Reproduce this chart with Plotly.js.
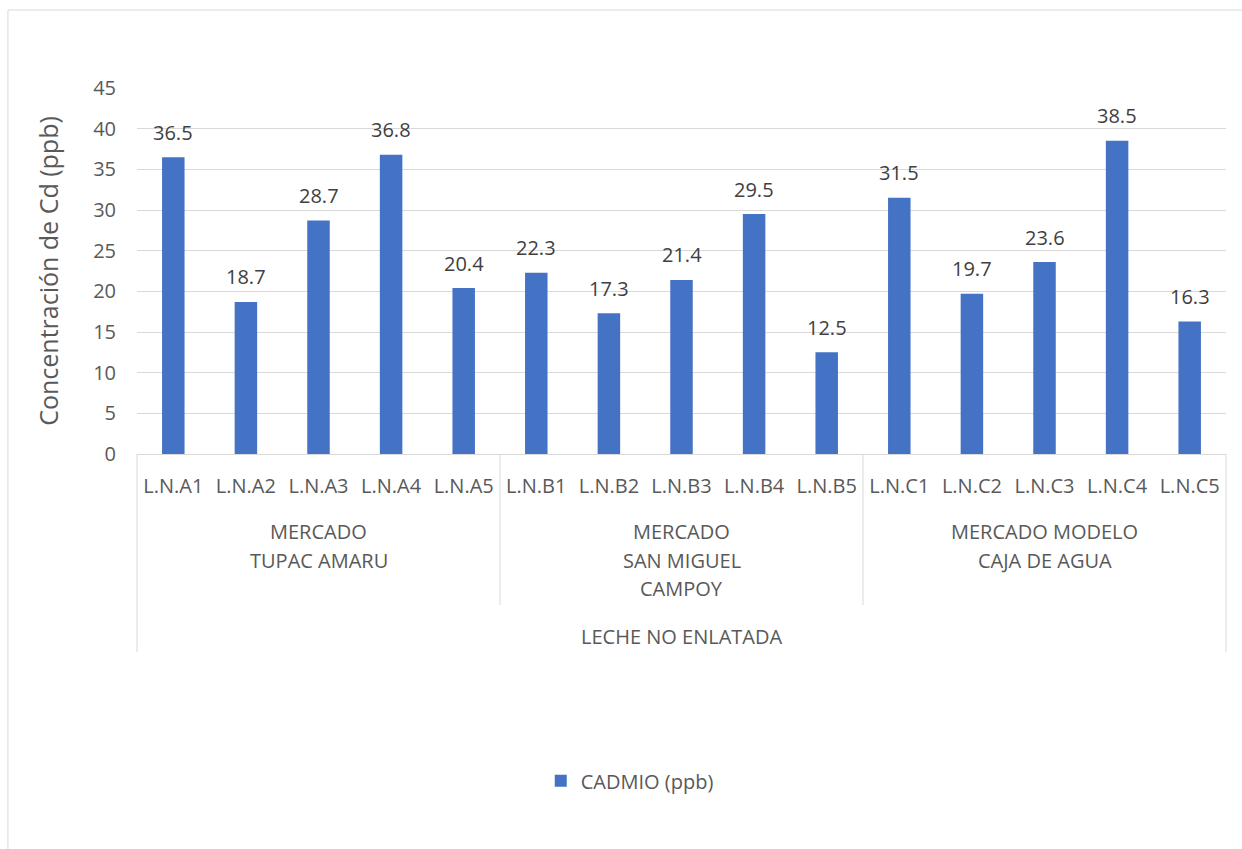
<!DOCTYPE html>
<html>
<head>
<meta charset="utf-8">
<script src="https://cdn.plot.ly/plotly-3.0.1.min.js"></script>
<style>
  html, body { margin: 0; padding: 0; background: #ffffff; }
  #chart { width: 1242px; height: 849px; }
</style>
</head>
<body>
<div id="chart"></div>
<script>
// ---- Data ----
const categories = ["L.N.A1", "L.N.A2", "L.N.A3", "L.N.A4", "L.N.A5",
                    "L.N.B1", "L.N.B2", "L.N.B3", "L.N.B4", "L.N.B5",
                    "L.N.C1", "L.N.C2", "L.N.C3", "L.N.C4", "L.N.C5"];
const cadmioValues = [36.5, 18.7, 28.7, 36.8, 20.4,
                      22.3, 17.3, 21.4, 29.5, 12.5,
                      31.5, 19.7, 23.6, 38.5, 16.3];
const groupLabels = [["MERCADO", "TUPAC AMARU"],
                     ["MERCADO", "SAN MIGUEL", "CAMPOY"],
                     ["MERCADO MODELO", "CAJA DE AGUA"]];
const groupStarts = [0, 5, 10];
const groupEnds = [4, 9, 14];
const topLabel = "LECHE NO ENLATADA";
const seriesName = "CADMIO (ppb)";
const yTitle = "Concentración de Cd (ppb)";

// ---- Style ----
const FONT = "Open Sans, Noto Sans, sans-serif";
const gray = "#595959";
const lineGray = "#d9d9d9";
const barColor = "#4472C4";

const trace = {
  type: "bar",
  x: categories,
  y: cadmioValues,
  name: seriesName,
  marker: { color: barColor },
  hoverinfo: "x+y",
  showlegend: true
};

const annotations = [];
categories.forEach((c, i) => {
  annotations.push({
    xref: "x", yref: "y", x: c, y: cadmioValues[i],
    text: cadmioValues[i].toFixed(1),
    showarrow: false, yanchor: "middle", yshift: 25,
    font: { family: FONT, size: 20, color: "#404040" }
  });
});
groupLabels.forEach((lines, g) => {
  const cx = (groupStarts[g] + groupEnds[g]) / 2;
  lines.forEach((ln, k) => {
    annotations.push({
      xref: "x", yref: "paper", x: cx, y: -0.2131,
      yshift: -28.5 * k,
      text: ln, showarrow: false, xanchor: "center", yanchor: "middle",
      font: { family: FONT, size: 20, color: gray }
    });
  });
});
annotations.push({
  xref: "paper", yref: "paper", x: 0.5, y: -0.4973,
  text: topLabel, showarrow: false, xanchor: "center", yanchor: "middle",
  font: { family: FONT, size: 20, color: gray }
});

const shapes = [];
// group dividers
for (let g = 1; g < groupStarts.length; g++) {
  const xd = groupStarts[g] - 0.5;
  shapes.push({ type: "line", xref: "x", yref: "paper", x0: xd, x1: xd, y0: 0, y1: -0.4126,
                line: { color: lineGray, width: 1 } });
}
// outer dividers
[0, 1].forEach(xp => {
  shapes.push({ type: "line", xref: "paper", yref: "paper", x0: xp, x1: xp, y0: 0, y1: -0.541,
                line: { color: lineGray, width: 1 } });
});
// chart border
shapes.push({ type: "rect", xref: "paper", yref: "paper", x0: -0.1185, x1: 1.03, y0: 1.2131, y1: -1.2,
              line: { color: lineGray, width: 1 }, fillcolor: "rgba(0,0,0,0)", layer: "below" });

const layout = {
  width: 1242, height: 849,
  margin: { l: 137, r: 16, t: 88, b: 395 },
  paper_bgcolor: "#ffffff", plot_bgcolor: "#ffffff",
  font: { family: FONT, color: gray },
  bargap: 0.69,
  xaxis: {
    type: "category",
    range: [-0.5, 14.5],
    showgrid: false, zeroline: false,
    showline: true, linecolor: lineGray, linewidth: 1,
    ticks: "", ticklabelstandoff: 14,
    tickfont: { family: FONT, size: 20, color: gray },
    fixedrange: true
  },
  yaxis: {
    range: [0, 45], dtick: 5, tick0: 0,
    showgrid: true, gridcolor: lineGray, gridwidth: 1,
    zeroline: false, showline: false, ticks: "",
    ticklabelstandoff: 20,
    tickfont: { family: FONT, size: 20, color: gray },
    title: { text: yTitle, font: { family: FONT, size: 25, color: gray }, standoff: 27 },
    fixedrange: true
  },
  legend: {
    orientation: "h", x: 0.4525, xanchor: "center", y: -0.893, yanchor: "middle",
    font: { family: FONT, size: 20, color: gray },
    bgcolor: "rgba(0,0,0,0)"
  },
  annotations: annotations,
  shapes: shapes
};

Plotly.newPlot("chart", [trace], layout, { displayModeBar: false, staticPlot: true });
</script>
</body>
</html>
